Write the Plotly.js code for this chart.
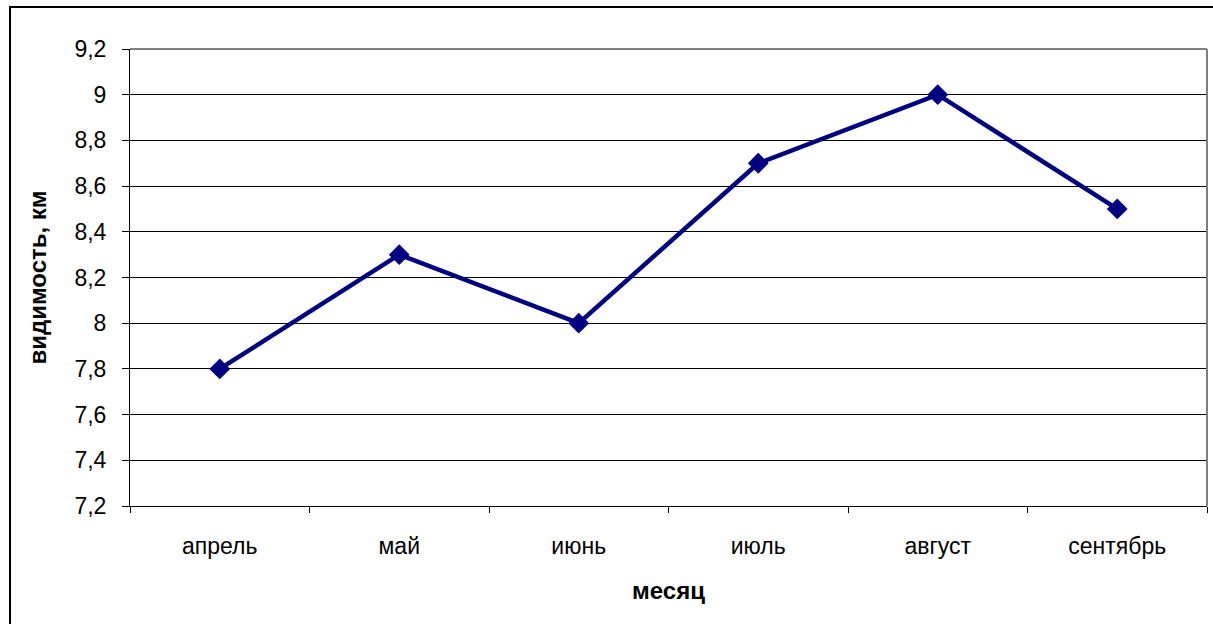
<!DOCTYPE html>
<html>
<head>
<meta charset="utf-8">
<script src="https://cdn.plot.ly/plotly-3.0.1.min.js"></script>
<style>
  html, body { margin: 0; padding: 0; background: #ffffff; }
  #chart { width: 1213px; height: 624px; }
</style>
</head>
<body>
<div id="chart"></div>
<script>
// Monthly visibility, km
const months = ["апрель", "май", "июнь", "июль", "август", "сентябрь"];
const visibility = [7.8, 8.3, 8.0, 8.7, 9.0, 8.5];

const yTitle = "видимость, км";
const xTitle = "месяц";

const W = 1213, H = 624;
const margin = { l: 130, r: 6, t: 49, b: 118 };
const plotW = W - margin.l - margin.r;
const plotH = H - margin.t - margin.b;

// helpers to place the outer frame in paper units from pixel positions
const px = x => (x - margin.l) / plotW;
const py = y => (H - margin.b - y) / plotH;

const trace = {
  x: months,
  y: visibility,
  type: "scatter",
  mode: "lines+markers",
  line: { color: "#000080", width: 4.5 },
  marker: { symbol: "diamond", size: 16, color: "#000080" },
  hoverinfo: "x+y"
};

const font = { family: "Liberation Sans, Arial, sans-serif", color: "#000000" };

const layout = {
  width: W,
  height: H,
  margin: margin,
  paper_bgcolor: "#ffffff",
  plot_bgcolor: "#ffffff",
  separators: ", ",
  showlegend: false,
  font: Object.assign({ size: 23 }, font),
  xaxis: {
    type: "category",
    range: [-0.5, months.length - 0.5],
    autorange: false,
    showline: true,
    linecolor: "#000000",
    linewidth: 1,
    ticks: "outside",
    tickson: "boundaries",
    ticklen: 6,
    tickcolor: "#000000",
    showgrid: false,
    zeroline: false,
    tickfont: Object.assign({ size: 23 }, font),
    ticklabelstandoff: 19,
    title: { text: xTitle, font: Object.assign({ size: 24, weight: "bold" }, font), standoff: 24 }
  },
  yaxis: {
    range: [7.2, 9.2],
    autorange: false,
    tick0: 7.2,
    dtick: 0.2,
    showline: true,
    linecolor: "#000000",
    linewidth: 1,
    ticks: "outside",
    ticklen: 7,
    tickcolor: "#000000",
    showgrid: true,
    gridcolor: "#000000",
    gridwidth: 1,
    zeroline: false,
    tickfont: Object.assign({ size: 23 }, font),
    ticklabelstandoff: 11,
    title: { text: yTitle, font: Object.assign({ size: 24, weight: "bold" }, font), standoff: 21 }
  },
  shapes: [
    // grey plot-area edge at top and right
    { type: "line", xref: "paper", yref: "paper", x0: 0, x1: 1, y0: 1, y1: 1,
      line: { color: "#808080", width: 2 }, layer: "above" },
    { type: "line", xref: "paper", yref: "paper", x0: 1, x1: 1, y0: 0, y1: 1,
      line: { color: "#808080", width: 2 }, layer: "above" },
    // outer chart frame
    { type: "rect", xref: "paper", yref: "paper",
      x0: px(10), x1: px(1216), y0: py(630), y1: py(7),
      line: { color: "#000000", width: 2 }, fillcolor: "rgba(0,0,0,0)", layer: "above" }
  ]
};

Plotly.newPlot("chart", [trace], layout, { displayModeBar: false, staticPlot: true });
</script>
</body>
</html>
